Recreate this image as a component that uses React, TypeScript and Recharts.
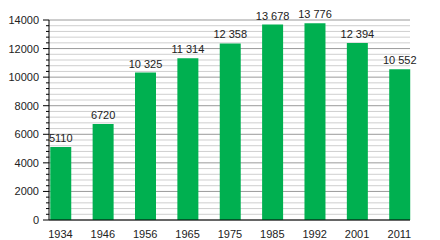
import { BarChart, Bar, XAxis, YAxis, CartesianGrid, LabelList } from 'recharts'

// ─── Data ────────────────────────────────────────────────────────
const YEARS = ['1934', '1946', '1956', '1965', '1975', '1985', '1992', '2001', '2011']
const POPULATION = [5110, 6720, 10325, 11314, 12358, 13678, 13776, 12394, 10552]
const MAJOR_STEP = 2000
const MINOR_STEP = 400

const data = YEARS.map((year, i) => ({ i, year, value: POPULATION[i] }))
const X_TICKS = YEARS.map((_, i) => i)

const gridValues: number[] = []
for (let v = 0; v <= 14000; v += MINOR_STEP) gridValues.push(v)

const FONT = '"Liberation Sans", Arial, sans-serif'
const GREEN = '#00b050'

// French style: 4-digit numbers stay packed, bigger ones get a space
const fmt = (v: number) => {
  const s = String(v)
  return v >= 10000 ? s.slice(0, s.length - 3) + ' ' + s.slice(-3) : s
}

function YTick(props: any) {
  const { x, y, payload } = props
  const major = payload.value % MAJOR_STEP === 0
  return (
    <g>
      <line x1={x - (major ? 6 : 3)} x2={x} y1={y} y2={y} stroke="#000" strokeWidth={1} />
      {major && (
        <text x={x - 10} y={y} dy={4} textAnchor="end" fontSize={11} fontFamily={FONT} fill="#222">
          {payload.value}
        </text>
      )}
    </g>
  )
}

function GridLine(props: any) {
  const { x1, x2, y1, y2, index } = props
  const major = index % 5 === 0
  return (
    <line
      key={`g-${index}`}
      x1={x1}
      x2={x2}
      y1={y1}
      y2={y2}
      stroke={major ? '#9a9a9a' : '#cfcfcf'}
      strokeWidth={1}
    />
  )
}

function ValueLabel(props: any) {
  const { x, y, width, value } = props
  return (
    <text
      x={x + width / 2}
      y={y - 5}
      textAnchor="middle"
      fontSize={11}
      fontFamily={FONT}
      fill="#222"
    >
      {fmt(Number(value))}
    </text>
  )
}

export default function App() {
  return (
    <div style={{ position: 'absolute', left: 0, top: 0, width: 440, height: 240, background: '#fff' }}>
      <BarChart width={440} height={240} data={data} margin={{ top: 20, right: 30, left: 0, bottom: 0 }}>
        <CartesianGrid
          vertical={false}
          horizontalValues={gridValues}
          horizontal={(p: any) => <GridLine {...p} />}
        />
        <XAxis
          type="number"
          dataKey="i"
          domain={[-0.27, 8.25]}
          ticks={X_TICKS}
          interval={0}
          tickFormatter={(i: number) => YEARS[i]}
          tickLine={false}
          axisLine={{ stroke: '#000' }}
          tick={{ fontSize: 11, fill: '#222', fontFamily: FONT }}
          tickMargin={4}
          height={20}
        />
        <YAxis
          type="number"
          domain={[0, 14000]}
          ticks={gridValues}
          interval={0}
          width={49}
          tickSize={0}
          tickMargin={0}
          tickLine={false}
          axisLine={{ stroke: '#000' }}
          tick={<YTick />}
        />
        <Bar dataKey="value" fill={GREEN} barSize={21} isAnimationActive={false}>
          <LabelList dataKey="value" content={<ValueLabel />} />
        </Bar>
      </BarChart>
    </div>
  )
}
